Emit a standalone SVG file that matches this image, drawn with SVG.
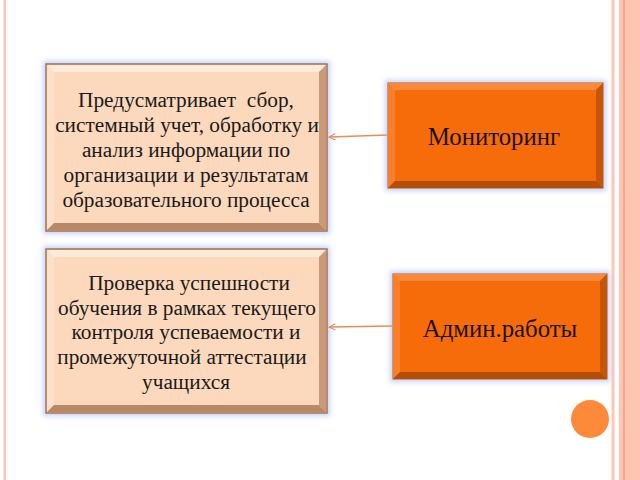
<svg xmlns="http://www.w3.org/2000/svg" width="640" height="480" viewBox="0 0 640 480">
<defs>
<style>
.t{font-family:"Liberation Serif","Times New Roman",serif;font-size:21.3px;fill:#1a1a1a;text-anchor:middle;white-space:pre}
.tb{font-family:"Liberation Serif","Times New Roman",serif;font-size:24.8px;fill:#1a1208;text-anchor:middle}
.edge{stroke:#ea8c5c;stroke-width:1.3;fill:none}
.pk{stroke:#a8714f;stroke-width:1.5}
.ok{stroke:#c65a10;stroke-width:1}
</style>
<filter id="glow" x="-10%" y="-10%" width="120%" height="120%"><feGaussianBlur stdDeviation="2.5"/></filter>
<marker id="ah" viewBox="0 0 10 10" refX="9" refY="5" markerWidth="8" markerHeight="8" orient="auto" markerUnits="userSpaceOnUse">
<path d="M1,1 L9,5 L1,9" fill="none" stroke="#ea8c5c" stroke-width="1.4"/>
</marker>
</defs>
<rect width="640" height="480" fill="#ffffff"/>
<!-- frame -->
<rect x="3.5" y="0" width="2.5" height="480" fill="#fcc8b6"/>
<rect x="611.5" y="0" width="3" height="480" fill="#fcc8b6"/>
<rect x="619" y="0" width="21" height="480" fill="#fdc6b3"/>
<rect x="623" y="0" width="2" height="480" fill="#f3a88e"/>

<g id="box1">
<rect x="43" y="61" width="287" height="173" fill="#a9c2ff" opacity="0.7" filter="url(#glow)"/>
<rect x="46" y="64" width="281" height="167" fill="#fcd8bc" class="pk"/>
<polygon points="47,65 326,65 319,72 54,72" fill="#fdebd9"/>
<polygon points="47,65 54,72 54,223 47,230" fill="#fbe1ca"/>
<polygon points="326,65 326,230 319,223 319,72" fill="#c99a79"/>
<polygon points="47,230 326,230 319,223 54,223" fill="#b98967"/>
<rect x="54" y="72" width="265" height="151" fill="#fcd8bc"/>
<text class="t" x="186" y="107" xml:space="preserve">Предусматривает  сбор,</text>
<text class="t" x="187" y="132">системный учет, обработку и</text>
<text class="t" x="186" y="157">анализ информации по</text>
<text class="t" x="186" y="182">организации и результатам</text>
<text class="t" x="186" y="207">образовательного процесса</text>
</g>

<g id="box2">
<rect x="43" y="246" width="287" height="170" fill="#a9c2ff" opacity="0.7" filter="url(#glow)"/>
<rect x="46" y="249" width="281" height="164" fill="#fcd8bc" class="pk"/>
<polygon points="47,250 326,250 319,257 54,257" fill="#fdebd9"/>
<polygon points="47,250 54,257 54,405 47,412" fill="#fbe1ca"/>
<polygon points="326,250 326,412 319,405 319,257" fill="#c99a79"/>
<polygon points="47,412 326,412 319,405 54,405" fill="#b98967"/>
<rect x="54" y="257" width="265" height="148" fill="#fcd8bc"/>
<text class="t" x="189" y="290">Проверка успешности</text>
<text class="t" x="187" y="315">обучения в рамках текущего</text>
<text class="t" x="186" y="339">контроля успеваемости и</text>
<text class="t" x="182" y="364">промежуточной аттестации</text>
<text class="t" x="186" y="389">учащихся</text>
</g>

<g id="monitoring">
<rect x="385" y="80" width="221" height="111" fill="#a9c2ff" opacity="0.7" filter="url(#glow)"/>
<rect x="388" y="83" width="215" height="105" fill="#f76c0a" class="ok"/>
<polygon points="388,83 603,83 596,90 395,90" fill="#f98a3c"/>
<polygon points="388,83 395,90 395,181 388,188" fill="#f97f2c"/>
<polygon points="603,83 603,188 596,181 596,90" fill="#c65607"/>
<polygon points="388,188 603,188 596,181 395,181" fill="#b44e05"/>
<rect x="395" y="90" width="201" height="91" fill="#f76c0a"/>
<text class="tb" x="494" y="145">Мониторинг</text>
</g>

<g id="admin">
<rect x="390" y="271" width="220" height="111" fill="#a9c2ff" opacity="0.7" filter="url(#glow)"/>
<rect x="393" y="274" width="214" height="105" fill="#f76c0a" class="ok"/>
<polygon points="393,274 607,274 600,281 400,281" fill="#f98a3c"/>
<polygon points="393,274 400,281 400,372 393,379" fill="#f97f2c"/>
<polygon points="607,274 607,379 600,372 600,281" fill="#c65607"/>
<polygon points="393,379 607,379 600,372 400,372" fill="#b44e05"/>
<rect x="400" y="281" width="200" height="91" fill="#f76c0a"/>
<text class="tb" x="500" y="337">Админ.работы</text>
</g>

<g id="connectors">
<line class="edge" x1="388" y1="135" x2="329" y2="137" marker-end="url(#ah)"/>
<line class="edge" x1="393" y1="326" x2="329" y2="327" marker-end="url(#ah)"/>
</g>

<circle cx="590" cy="419" r="19" fill="#fd8a3a"/>
</svg>
